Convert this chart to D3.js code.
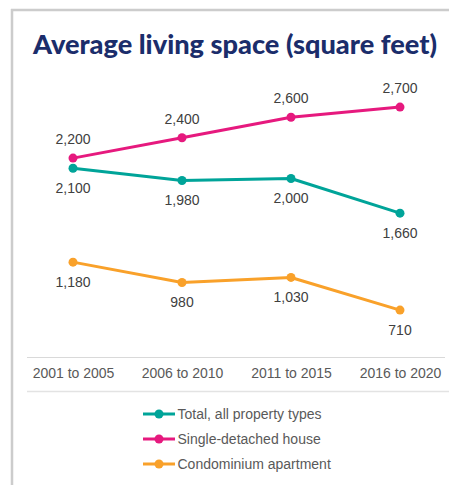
<!DOCTYPE html>
<html>
<head>
<meta charset="utf-8">
<script src="https://cdn.jsdelivr.net/npm/d3@7"></script>
<style>
  html, body { margin: 0; padding: 0; background: #fff; }
  svg { display: block; }
</style>
</head>
<body>
<div id="chart"></div>
<script>
const categories = ["2001 to 2005", "2006 to 2010", "2011 to 2015", "2016 to 2020"];
const totalValues = [2100, 1980, 2000, 1660];
const singleValues = [2200, 2400, 2600, 2700];
const condoValues = [1180, 980, 1030, 710];
const seriesNames = ["Total, all property types", "Single-detached house", "Condominium apartment"];
const seriesColors = ["#00a499", "#e6197e", "#f9a12a"];
const labelPositions = ["below", "above", "below"];

const W = 449, H = 485;
const svg = d3.select("#chart").append("svg").attr("width", W).attr("height", H);

// card border
svg.append("line").attr("x1", 11).attr("x2", W).attr("y1", 10).attr("y2", 10)
  .attr("stroke", "#cccccc").attr("stroke-width", 2.5);
svg.append("line").attr("x1", 12).attr("x2", 12).attr("y1", 9).attr("y2", H)
  .attr("stroke", "#cccccc").attr("stroke-width", 2.5);

// title
svg.append("text").attr("x", 235).attr("y", 54).attr("text-anchor", "middle")
  .attr("font-family", "Lato, 'Open Sans', sans-serif").attr("font-weight", 900)
  .attr("font-size", 27).attr("fill", "#1b2d6b")
  .attr("textLength", 404).attr("lengthAdjust", "spacingAndGlyphs")
  .text("Average living space (square feet)");

const x = d3.scalePoint().domain(categories).range([73, 400]);
const y = d3.scaleLinear().domain([0, 3000]).range([382.5, 76.5]);

// x axis
const xAxis = svg.append("g").attr("transform", "translate(0,357)")
  .call(d3.axisBottom(x).tickSize(0).tickPadding(11));
xAxis.select(".domain").remove();
svg.append("line").attr("x1", 27).attr("x2", 445).attr("y1", 357.5).attr("y2", 357.5)
  .attr("stroke", "#d9d9d9").attr("stroke-width", 1);
xAxis.selectAll("text").attr("font-family", "'Liberation Sans', Arial, sans-serif")
  .attr("font-size", 14).attr("fill", "#595959").attr("dy", "0.71em");

// separator line
svg.append("line").attr("x1", 27).attr("x2", W).attr("y1", 391.5).attr("y2", 391.5)
  .attr("stroke", "#e3e3e3").attr("stroke-width", 1.5);

const series = [totalValues, singleValues, condoValues].map((vals, i) => ({
  name: seriesNames[i], color: seriesColors[i], pos: labelPositions[i],
  values: vals.map((v, j) => ({cat: categories[j], v}))
}));

const line = d3.line().x(d => x(d.cat)).y(d => y(d.v));
const fmt = d3.format(",");

[2, 0, 1].forEach(i => {
  const s = series[i];
  const g = svg.append("g");
  g.append("path").datum(s.values).attr("d", line).attr("fill", "none")
    .attr("stroke", s.color).attr("stroke-width", 3).attr("stroke-linejoin", "round");
  g.selectAll("circle").data(s.values).join("circle")
    .attr("cx", d => x(d.cat)).attr("cy", d => y(d.v)).attr("r", 4.5).attr("fill", s.color);
  g.selectAll("text").data(s.values).join("text")
    .attr("x", d => x(d.cat))
    .attr("y", d => y(d.v) + (s.pos === "above" ? -19 : 20))
    .attr("dy", "0.35em").attr("text-anchor", "middle")
    .attr("font-family", "'Liberation Sans', Arial, sans-serif").attr("font-size", 14)
    .attr("fill", "#404040").text(d => fmt(d.v));
});

// legend
const legend = svg.append("g");
series.forEach((s, i) => {
  const ly = 414 + i * 25;
  legend.append("line").attr("x1", 143).attr("x2", 175).attr("y1", ly).attr("y2", ly)
    .attr("stroke", s.color).attr("stroke-width", 3);
  legend.append("circle").attr("cx", 159).attr("cy", ly).attr("r", 4.5).attr("fill", s.color);
  legend.append("text").attr("x", 177.5).attr("y", ly).attr("dy", "0.35em")
    .attr("font-family", "'Liberation Sans', Arial, sans-serif").attr("font-size", 14)
    .attr("fill", "#595959").text(s.name);
});
</script>
</body>
</html>
